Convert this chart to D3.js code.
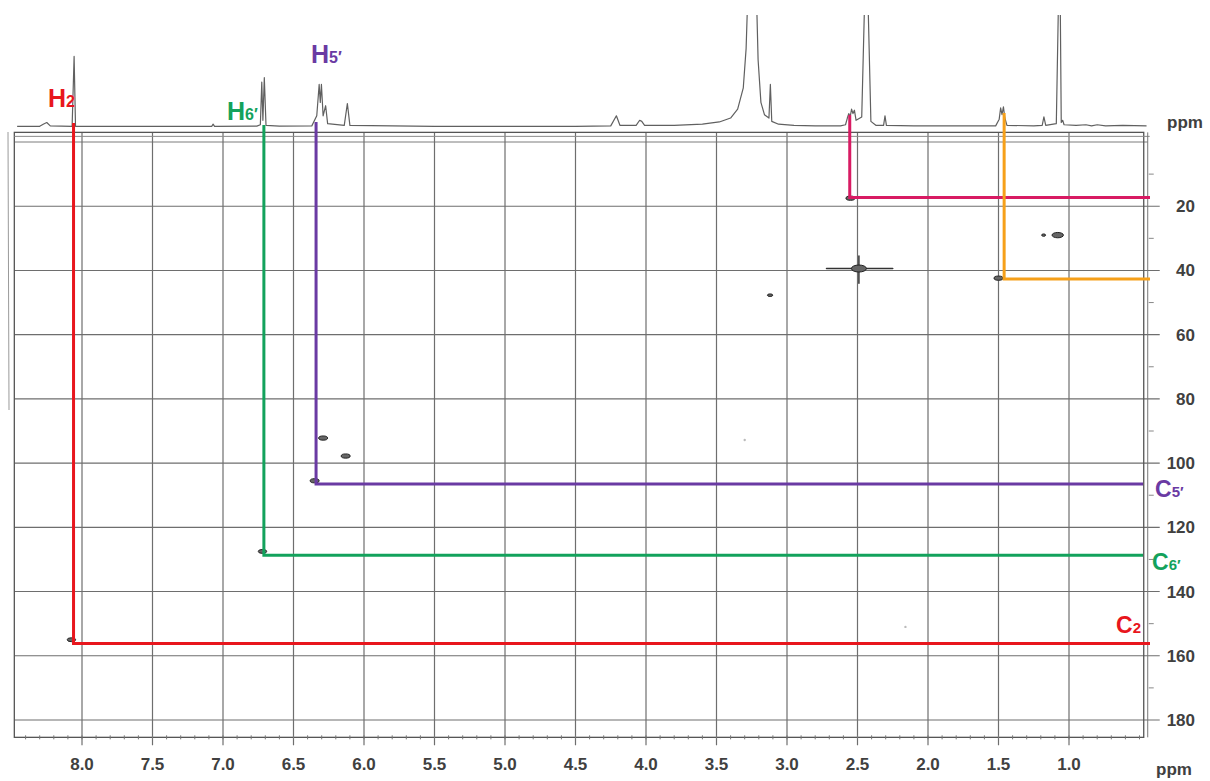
<!DOCTYPE html>
<html><head><meta charset="utf-8">
<script src="https://cdn.jsdelivr.net/npm/d3@7"></script>
<style>
html,body{margin:0;padding:0;background:#fff;}
svg{display:block;}
</style></head>
<body>
<svg id="chart" width="1210" height="781"></svg>
<script>
// ---------- DATA ----------
const hTicks = [8.0, 7.5, 7.0, 6.5, 6.0, 5.5, 5.0, 4.5, 4.0, 3.5, 3.0, 2.5, 2.0, 1.5, 1.0];
const cTicks = [20, 40, 60, 80, 100, 120, 140, 160, 180];
const axisUnit = "ppm";

// 1H trace along the top: [ppm, relative intensity]
const trace1H = [
  [8.46,0.5],[8.30,0.6],[8.275,2.5],[8.25,4],[8.225,1],[8.07,0.6],[8.056,63],[8.046,0.6],[7.60,0.5],[7.20,0.6],
  [7.08,0.6],[7.07,2.5],[7.06,0.6],[6.76,0.8],[6.735,2],[6.725,40],[6.717,6],[6.707,44],[6.695,1.5],[6.60,0.8],
  [6.37,1],[6.335,10],[6.318,38],[6.31,22],[6.302,38],[6.29,10],[6.272,19],[6.258,3],[6.14,1.5],[6.118,21],[6.10,1.5],
  [5.50,0.6],[5.00,0.6],[4.50,0.6],[4.25,1],[4.21,10],[4.185,1.5],[4.07,1.5],[4.045,6],[4.03,5],[4.01,1.5],
  [3.80,1.5],[3.60,2.5],[3.48,4.5],[3.40,8],[3.35,16],[3.31,35],[3.29,70],[3.28,110],[3.215,110],[3.205,60],
  [3.185,22],[3.16,11],[3.128,8],[3.118,38],[3.108,5],[3.06,2.5],[2.95,1.5],[2.80,1],[2.62,1],
  [2.585,2],[2.572,8],[2.562,12],[2.552,9],[2.542,16],[2.532,12],[2.522,15],[2.51,6],[2.47,9],[2.45,110],
  [2.425,110],[2.405,5],[2.37,1.5],[2.315,1.5],[2.305,10],[2.295,1.5],[2.10,1],[1.90,1],[1.70,1],[1.52,1],
  [1.495,7],[1.485,17],[1.475,11],[1.465,18],[1.455,8],[1.44,1.5],[1.25,1],[1.19,1.5],[1.178,9],[1.165,1.5],
  [1.09,3],[1.075,110],[1.062,110],[1.055,4],[1.045,6],[1.035,2],[0.95,1.5],[0.88,2],[0.84,1],[0.80,2],
  [0.74,1],[0.62,1.5],[0.45,1]
];

// HSQC cross peaks: [1H ppm, 13C ppm, size]
const crossPeaks = [
  [8.075,155.0,2.8],[6.72,127.5,2.8],[6.35,105.5,3],[6.29,92.2,3],[6.13,97.8,3],
  [2.55,17.5,3],[2.49,39.4,5],[1.50,42.4,3],[1.08,29.0,3.8],[1.18,29.0,1.3],[3.12,47.7,1.8]
];
const faintPeaks = [[3.30,92.8],[2.16,151.0]];
// DMSO t1-noise ridges: [h1, c1, h2, c2]
const ridges = [[2.72,39.4,2.25,39.4],[2.49,35.5,2.49,44.0]];

// assignment correlations
const assignNames = ["2", "6′", "5′", "", ""];
const assignH = [8.06, 6.71, 6.34, 2.555, 1.46];
const assignC = [156.2, 128.7, 106.5, 17.3, 42.7];

// ---------- STYLE ----------
const colors = ["#e8161d", "#13a25c", "#6a3aa3", "#d81b63", "#f6a01a"];
const lineTopY = [123, 125, 122, 115, 113];
const lineRightX = [1150, 1143, 1143, 1150, 1150];
const hLabelPos = [[48,107],[227,120],[311,63]];
const cLabelPos = [[1116,633],[1152,570],[1155,497]];

const svg = d3.select("#chart");
const x = d3.scaleLinear().domain([8.0, 1.0]).range([82, 1069]);
const y = d3.scaleLinear().domain([0, 180]).range([142, 720]);
const yI = d3.scaleLinear().domain([0, 100]).range([127, 15]);

const gridColor = "#6e6e6e";
const frameL = x(8.48), frameR = x(0.47), frameT = y(-3), frameB = y(185.4);

// scan edge artifact at left
svg.append("line").attr("x1",8).attr("x2",9).attr("y1",132).attr("y2",410)
  .attr("stroke","#9a9a9a").attr("stroke-width",1);

// grid verticals
svg.append("g").selectAll("line").data(hTicks).join("line")
  .attr("x1", d => x(d)).attr("x2", d => x(d))
  .attr("y1", frameT).attr("y2", frameB + 8)
  .attr("stroke", gridColor).attr("stroke-width", 1.2);

// grid horizontals (0 plus ticks)
svg.append("g").selectAll("line").data([0].concat(cTicks)).join("line")
  .attr("x1", frameL).attr("x2", d => d === 0 ? frameR + 4 : frameR + 16)
  .attr("y1", d => y(d)).attr("y2", d => y(d))
  .attr("stroke", gridColor).attr("stroke-width", d => d === 0 ? 0.9 : 1.1);

// frame
const frame = svg.append("g").attr("fill","none").attr("stroke","#555");
frame.append("rect").attr("x", frameL).attr("y", frameT)
  .attr("width", frameR - frameL).attr("height", frameB - frameT).attr("stroke-width", 1.3);
frame.append("line").attr("x1", frameL).attr("x2", frameR + 6).attr("y1", frameT + 4).attr("y2", frameT + 4)
  .attr("stroke","#8a8a8a").attr("stroke-width",1);
frame.append("line").attr("x1", frameR + 4).attr("x2", frameR + 4).attr("y1", frameT).attr("y2", frameB)
  .attr("stroke","#777").attr("stroke-width",1);

// bottom axis minor ticks every 0.1 ppm
const minorH = d3.range(5, 85).map(i => i / 10);
svg.append("g").selectAll("line").data(minorH).join("line")
  .attr("x1", d => x(d)).attr("x2", d => x(d))
  .attr("y1", frameB - 2).attr("y2", frameB + 2)
  .attr("stroke", "#777").attr("stroke-width", 1);
// right axis minor ticks
const minorC = d3.range(10, 190, 20);
svg.append("g").selectAll("line").data(minorC).join("line")
  .attr("x1", frameR + 5).attr("x2", frameR + 10)
  .attr("y1", d => y(d)).attr("y2", d => y(d))
  .attr("stroke", "#888").attr("stroke-width", 1);

// tick labels
const tickFont = "'Liberation Sans', Arial, sans-serif";
svg.append("g").selectAll("text").data(hTicks).join("text")
  .attr("x", d => x(d)).attr("y", 770)
  .attr("text-anchor","middle").attr("font-family",tickFont).attr("font-weight","bold")
  .attr("font-size",17).attr("fill","#404040")
  .text(d => d3.format(".1f")(d));
svg.append("g").selectAll("text").data(cTicks).join("text")
  .attr("x", 1195).attr("y", d => y(d) + 6)
  .attr("text-anchor","end").attr("font-family",tickFont).attr("font-weight","bold")
  .attr("font-size",17).attr("fill","#404040")
  .text(d => d);
svg.append("text").attr("x",1174).attr("y",775).attr("text-anchor","middle")
  .attr("font-family",tickFont).attr("font-weight","bold").attr("font-size",17).attr("fill","#404040").text(axisUnit);
svg.append("text").attr("x",1185).attr("y",128).attr("text-anchor","middle")
  .attr("font-family",tickFont).attr("font-weight","bold").attr("font-size",17).attr("fill","#404040").text(axisUnit);

// 1H trace
svg.append("clipPath").attr("id","clipTop").append("rect")
  .attr("x",0).attr("y",15).attr("width",1210).attr("height",120);
svg.append("path").datum(trace1H)
  .attr("clip-path","url(#clipTop)")
  .attr("d", d3.line().x(d => x(d[0])).y(d => yI(d[1])))
  .attr("fill","none").attr("stroke","#606060").attr("stroke-width",1.2).attr("stroke-linejoin","round");

// ridges and cross peaks
svg.append("g").selectAll("line").data(ridges).join("line")
  .attr("x1", d => x(d[0])).attr("y1", d => y(d[1]))
  .attr("x2", d => x(d[2])).attr("y2", d => y(d[3]))
  .attr("stroke","#333").attr("stroke-width",1.5).attr("stroke-linecap","round");
svg.append("g").selectAll("ellipse").data(crossPeaks).join("ellipse")
  .attr("cx", d => x(d[0])).attr("cy", d => y(d[1]))
  .attr("rx", d => d[2] * 1.5).attr("ry", d => Math.max(1.2, d[2] * 0.7))
  .attr("fill","#666").attr("stroke","#222").attr("stroke-width",1);
svg.append("g").selectAll("circle").data(faintPeaks).join("circle")
  .attr("cx", d => x(d[0])).attr("cy", d => y(d[1])).attr("r", 1.2).attr("fill","#bbb");

// assignment lines
const ag = svg.append("g");
assignH.forEach((h, i) => {
  const pts = [[x(h), lineTopY[i]], [x(h), y(assignC[i])], [lineRightX[i], y(assignC[i])]];
  ag.append("path").attr("d", d3.line()(pts))
    .attr("fill","none").attr("stroke", colors[i]).attr("stroke-width", 3)
    .attr("stroke-linejoin","miter");
});

// labels
const labFont = "'Liberation Sans Narrow', 'Arial Narrow', 'Liberation Sans', Arial, sans-serif";
assignNames.forEach((n, i) => {
  if (!n) return;
  const hp = hLabelPos[i];
  const t = svg.append("text").attr("x", hp[0]).attr("y", hp[1])
    .attr("font-family", labFont).attr("font-weight","bold").attr("fill", colors[i]);
  t.append("tspan").attr("font-size", 25).text("H");
  t.append("tspan").attr("font-size", 16).text(n);
  const cp = cLabelPos[i];
  const c = svg.append("text").attr("x", cp[0]).attr("y", cp[1])
    .attr("font-family", labFont).attr("font-weight","bold").attr("fill", colors[i]);
  c.append("tspan").attr("font-size", 23).text("C");
  c.append("tspan").attr("font-size", 15).text(n);
});
</script>
</body></html>
